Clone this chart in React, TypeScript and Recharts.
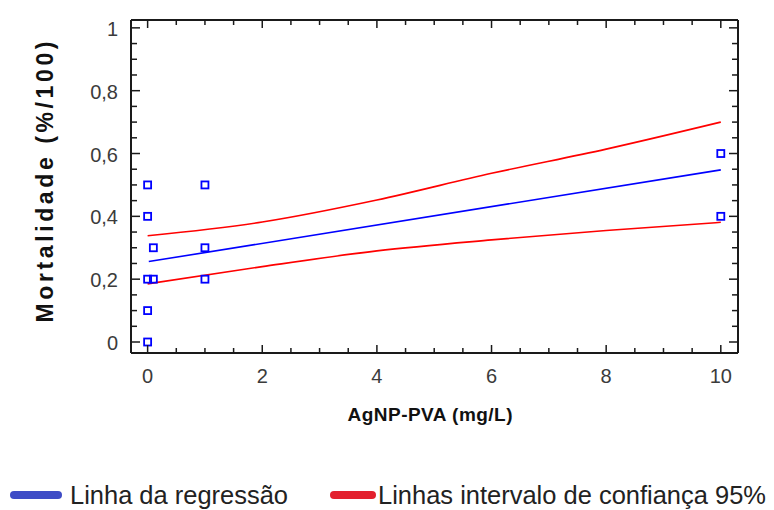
import React from 'react';
import { ComposedChart, XAxis, YAxis, Line, Scatter } from 'recharts';

// Observed data points (AgNP-PVA concentration, mortality fraction)
const pointX = [0, 0, 0, 0, 0, 0.1, 0.1, 1, 1, 1, 10, 10];
const pointY = [0, 0.1, 0.2, 0.4, 0.5, 0.2, 0.3, 0.2, 0.3, 0.5, 0.4, 0.6];

// Regression line endpoints
const regX = [0.02, 10];
const regY = [0.256, 0.548];

// 95% confidence band
const bandX = [0, 2, 4, 6, 8, 10];
const upperY = [0.338, 0.382, 0.452, 0.537, 0.614, 0.7];
const lowerY = [0.185, 0.24, 0.29, 0.325, 0.355, 0.381];

// Tick labels
const xMajorTicks = [0, 2, 4, 6, 8, 10];
const yMajorTicks = [0, 0.2, 0.4, 0.6, 0.8, 1];
const xMinorStep = 0.5;
const yMinorStep = 0.05;

const xTitle = 'AgNP-PVA (mg/L)';
const yTitle = 'Mortalidade (%/100)';
const legendLabels = ['Linha da regressão', 'Linhas intervalo de confiança 95%'];

const points = pointX.map((x, i) => ({ x, y: pointY[i] }));
const regData = regX.map((x, i) => ({ x, y: regY[i] }));
const upperData = bandX.map((x, i) => ({ x, y: upperY[i] }));
const lowerData = bandX.map((x, i) => ({ x, y: lowerY[i] }));

const xTicks: number[] = [];
for (let i = 0; i <= 20; i++) xTicks.push(+(i * xMinorStep).toFixed(2));
const yTicks: number[] = [];
for (let i = 0; i <= 20; i++) yTicks.push(+(i * yMinorStep).toFixed(2));

const isMajor = (v: number, arr: number[]) => arr.some((m) => Math.abs(m - v) < 1e-6);
const fmt = (v: number) => String(+v.toFixed(2)).replace('.', ',');

const FONT = "'Liberation Sans Narrow', 'Liberation Sans', Arial, sans-serif";
const AXIS = '#1a1a1a';
const TICKTXT = '#3b3b3b';

const BottomTick = (p: any) => {
  const { x, y, payload } = p;
  const major = isMajor(payload.value, xMajorTicks);
  return (
    <g>
      <line x1={x} x2={x} y1={y} y2={y - (major ? 8 : 5)} stroke={AXIS} strokeWidth={1.5} />
      {major && (
        <text x={x} y={y + 30} textAnchor="middle" fontFamily={FONT} fontSize={20} fill={TICKTXT}>
          {fmt(payload.value)}
        </text>
      )}
    </g>
  );
};

const TopTick = (p: any) => {
  const { x, y, payload } = p;
  const major = isMajor(payload.value, xMajorTicks);
  return <line x1={x} x2={x} y1={y} y2={y + (major ? 8 : 5)} stroke={AXIS} strokeWidth={1.5} />;
};

const LeftTick = (p: any) => {
  const { x, y, payload } = p;
  const major = isMajor(payload.value, yMajorTicks);
  return (
    <g>
      <line x1={x} x2={x + (major ? 9 : 6)} y1={y} y2={y} stroke={AXIS} strokeWidth={1.5} />
      {major && (
        <text x={x - 13} y={y + 8} textAnchor="end" fontFamily={FONT} fontSize={20} fill={TICKTXT}>
          {fmt(payload.value)}
        </text>
      )}
    </g>
  );
};

const RightTick = (p: any) => {
  const { x, y, payload } = p;
  const major = isMajor(payload.value, yMajorTicks);
  return <line x1={x} x2={x - (major ? 9 : 6)} y1={y} y2={y} stroke={AXIS} strokeWidth={1.5} />;
};

const Square = (p: any) => {
  const { cx, cy } = p;
  if (cx == null || cy == null) return null;
  return <rect x={cx - 3.5} y={cy - 3.5} width={7} height={7} fill="none" stroke="#0000ff" strokeWidth={1.8} />;
};

const XTitle = () => (
  <text x={430} y={421} textAnchor="middle" fontFamily={FONT} fontWeight="bold" fontSize={19}
    fill="#111" textLength={165} lengthAdjust="spacing">
    {xTitle}
  </text>
);

const YTitle = () => (
  <text x={53} y={182} textAnchor="middle" transform="rotate(-90, 53, 182)" fontFamily={FONT}
    fontWeight="bold" fontSize={23} fill="#111" textLength={281} lengthAdjust="spacing">
    {yTitle}
  </text>
);

export default function App() {
  return (
    <div style={{ position: 'absolute', left: 0, top: 0, width: 774, height: 510, background: '#fff' }}>
      <ComposedChart width={774} height={510} margin={{ top: 0, right: 0, bottom: 0, left: 0 }}>
        <XAxis xAxisId="b" type="number" dataKey="x" orientation="bottom" height={157}
          domain={[-0.29, 10.3]} allowDataOverflow ticks={xTicks} interval={0}
          tick={BottomTick} tickLine={false} tickSize={0} tickMargin={0}
          axisLine={{ stroke: AXIS, strokeWidth: 2 }} label={{ content: XTitle }} />
        <XAxis xAxisId="t" type="number" dataKey="x" orientation="top" height={20}
          domain={[-0.29, 10.3]} allowDataOverflow ticks={xTicks} interval={0}
          tick={TopTick} tickLine={false} tickSize={0} tickMargin={0}
          axisLine={{ stroke: AXIS, strokeWidth: 2 }} />
        <YAxis yAxisId="l" type="number" dataKey="y" orientation="left" width={131}
          domain={[-0.035, 1.025]} allowDataOverflow ticks={yTicks} interval={0}
          tick={LeftTick} tickLine={false} tickSize={0} tickMargin={0}
          axisLine={{ stroke: AXIS, strokeWidth: 2 }} label={{ content: YTitle }} />
        <YAxis yAxisId="r" type="number" dataKey="y" orientation="right" width={36}
          domain={[-0.035, 1.025]} allowDataOverflow ticks={yTicks} interval={0}
          tick={RightTick} tickLine={false} tickSize={0} tickMargin={0}
          axisLine={{ stroke: AXIS, strokeWidth: 2 }} />
        <Line xAxisId="b" yAxisId="l" data={upperData} dataKey="y" type="monotone" stroke="#ff0000"
          strokeWidth={1.6} dot={false} activeDot={false} isAnimationActive={false} />
        <Line xAxisId="b" yAxisId="l" data={lowerData} dataKey="y" type="monotone" stroke="#ff0000"
          strokeWidth={1.6} dot={false} activeDot={false} isAnimationActive={false} />
        <Line xAxisId="b" yAxisId="l" data={regData} dataKey="y" type="linear" stroke="#0000ff"
          strokeWidth={1.6} dot={false} activeDot={false} isAnimationActive={false} />
        <Scatter xAxisId="b" yAxisId="l" data={points} dataKey="y" shape={Square} isAnimationActive={false} />
      </ComposedChart>
      <svg width={774} height={510} style={{ position: 'absolute', left: 0, top: 0, pointerEvents: 'none' }}>
        <rect x={10} y={491} width={52} height={8} rx={4} fill="#3e4cc6" />
        <text x={70} y={504} fontFamily={FONT} fontSize={25} fill="#222" textLength={218}
          lengthAdjust="spacingAndGlyphs">{legendLabels[0]}</text>
        <rect x={330} y={491} width={46} height={8} rx={4} fill="#e3202e" />
        <text x={378} y={504} fontFamily={FONT} fontSize={25} fill="#222" textLength={388}
          lengthAdjust="spacingAndGlyphs">{legendLabels[1]}</text>
      </svg>
    </div>
  );
}
